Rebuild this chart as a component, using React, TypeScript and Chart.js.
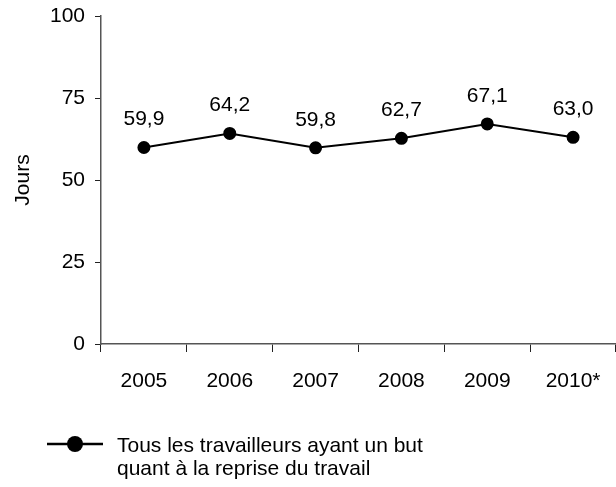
import React, { useEffect, useRef } from "react";
import { Chart, registerables } from "chart.js";

Chart.register(...registerables);

const categories = ["2005", "2006", "2007", "2008", "2009", "2010*"];
const values = [59.9, 64.2, 59.8, 62.7, 67.1, 63.0];
const yTicks = [0, 25, 50, 75, 100];
const seriesLabel = ["Tous les travailleurs ayant un but", "quant à la reprise du travail"];
const yTitle = "Jours";

const FONT = '"Liberation Sans", Arial, Helvetica, sans-serif';
const FS = 21;

const fmt = (v: number) => v.toFixed(1).replace(".", ",");

const dataLabelPlugin = {
  id: "dataLabels",
  afterDatasetsDraw(chart: any) {
    const ctx = chart.ctx;
    const meta = chart.getDatasetMeta(0);
    ctx.save();
    ctx.font = `${FS}px ${FONT}`;
    ctx.fillStyle = "#000";
    ctx.textAlign = "center";
    ctx.textBaseline = "middle";
    meta.data.forEach((pt: any, i: number) => {
      ctx.fillText(fmt(values[i]), pt.x, pt.y - 28);
    });
    ctx.restore();
  },
};

const legendPlugin = {
  id: "customLegend",
  afterDraw(chart: any) {
    const ctx = chart.ctx;
    const y = 444;
    ctx.save();
    ctx.strokeStyle = "#000";
    ctx.lineWidth = 2.5;
    ctx.beginPath();
    ctx.moveTo(47, y);
    ctx.lineTo(103, y);
    ctx.stroke();
    ctx.fillStyle = "#000";
    ctx.beginPath();
    ctx.arc(75, y, 8, 0, Math.PI * 2);
    ctx.fill();
    ctx.font = `${FS}px ${FONT}`;
    ctx.textAlign = "left";
    ctx.textBaseline = "middle";
    seriesLabel.forEach((line, i) => {
      ctx.fillText(line, 117, 446 + i * 23);
    });
    ctx.restore();
  },
};

export default function App() {
  const ref = useRef<HTMLCanvasElement>(null);
  useEffect(() => {
    if (!ref.current) return;
    const chart = new Chart(ref.current, {
      type: "line",
      data: {
        labels: categories,
        datasets: [
          {
            label: seriesLabel.join(" "),
            data: values,
            borderColor: "#000",
            backgroundColor: "#000",
            borderWidth: 2,
            pointRadius: 5.5,
            pointBackgroundColor: "#000",
            pointBorderColor: "#000",
            tension: 0,
          },
        ],
      },
      options: {
        animation: false,
        responsive: false,
        maintainAspectRatio: false,
        layout: { autoPadding: false, padding: { top: 16, right: 0, bottom: 0, left: 0 } },
        plugins: {
          legend: { display: false },
          tooltip: { enabled: false },
        },
        scales: {
          x: {
            type: "category",
            offset: true,
            grid: {
              offset: true,
              drawOnChartArea: false,
              tickLength: 8,
              color: "#222",
            },
            border: { display: true, color: "#555", width: 1.5 },
            ticks: {
              color: "#000",
              font: { family: FONT, size: FS },
              padding: 17,
              maxRotation: 0,
              autoSkip: false,
            },
            afterFit: (s: any) => {
              s.height = 143;
              s.paddingLeft = 0;
              s.paddingRight = 0;
            },
          },
          y: {
            min: 0,
            max: 100,
            afterBuildTicks: (s: any) => {
              s.ticks = yTicks.map((v) => ({ value: v }));
            },
            grid: {
              drawOnChartArea: false,
              tickLength: 6,
              color: "#222",
            },
            border: { display: true, color: "#555", width: 1.5 },
            ticks: {
              color: "#000",
              font: { family: FONT, size: FS },
              padding: 10,
            },
            title: {
              display: true,
              text: yTitle,
              color: "#000",
              font: { family: FONT, size: FS },
              padding: { top: 11, bottom: 0 },
            },
            afterFit: (s: any) => {
              s.width = 101;
              s.paddingTop = 0;
              s.paddingBottom = 0;
            },
          },
        },
      },
      plugins: [dataLabelPlugin, legendPlugin],
    });
    return () => chart.destroy();
  }, []);
  return (
    <div style={{ position: "fixed", left: 0, top: 0, width: 616, height: 487, background: "#fff" }}>
      <canvas ref={ref} width={616} height={487} style={{ width: 616, height: 487 }} />
    </div>
  );
}
